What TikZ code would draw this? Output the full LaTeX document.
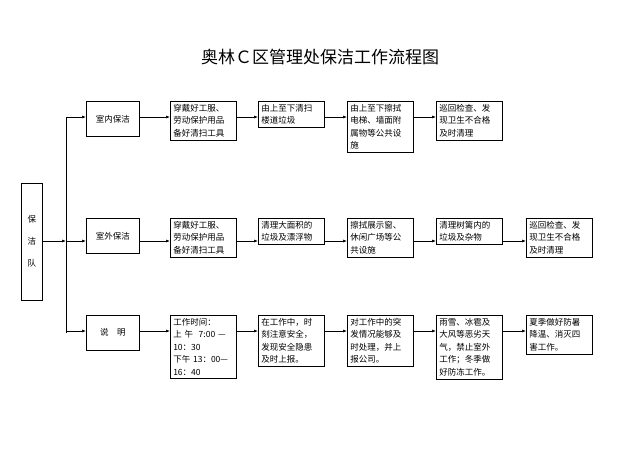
\documentclass[tikz,border=0pt]{standalone}
\usepackage{fontspec}
\setmainfont{Noto Sans CJK SC}
\usetikzlibrary{arrows.meta}
\begin{document}
\begin{tikzpicture}[x=1pt, y=-1pt, thick,
  box/.style = {draw, line width=0.5pt, anchor=north west, align=left, text width=60pt,
    inner sep=3pt, font=\fontsize{8.5}{12.5}\selectfont},
  head/.style = {draw, line width=0.5pt, anchor=north west, minimum width=53pt, minimum height=35pt,
    inner sep=2pt, font=\fontsize{8.5}{12.5}\selectfont},
  arr/.style = {line width=0.6pt, -{Latex[length=4pt,width=3pt]}}]
  \useasboundingbox (0,0) rectangle (640,453);
  \node (title) at (320,57) {\fontsize{17}{20}\selectfont 奥林Ｃ区管理处保洁工作流程图};
  \node[draw, line width=0.5pt, anchor=north west, minimum width=21pt, minimum height=117pt,
    align=center, font=\fontsize{8.5}{22}\selectfont] (team) at (21,183) {保\\洁\\队};
  \coordinate (r1) at (0,117);
  \coordinate (r2) at (0,241);
  \coordinate (r3) at (0,331);
  \coordinate (top) at (66,117);
  \coordinate (bot) at (66,333);
  \draw[line width=0.6pt] (top) -- (bot);
  \draw[arr] (team.east |- r2) -- (top |- r2);

  % row 1
  \node[head] (a0) at (86,101) {室内保洁};
  \node[box] (a1) at (170,101) {穿戴好工服、\\劳动保护用品\\备好清扫工具};
  \node[box] (a2) at (258,101) {由上至下清扫\\楼道垃圾};
  \node[box] (a3) at (347,101) {由上至下擦拭\\电梯、墙面附\\属物等公共设\\施};
  \node[box] (a4) at (436,101) {巡回检查、发\\现卫生不合格\\及时清理};
  % row 2
  \node[head] (b0) at (86,218) {室外保洁};
  \node[box] (b1) at (170,218) {穿戴好工服、\\劳动保护用品\\备好清扫工具};
  \node[box] (b2) at (258,218) {清理大面积的\\垃圾及漂浮物};
  \node[box] (b3) at (347,218) {擦拭展示窗、\\休闲广场等公\\共设施};
  \node[box] (b4) at (436,218) {清理树篱内的\\垃圾及杂物};
  \node[box] (b5) at (526,218) {巡回检查、发\\现卫生不合格\\及时清理};
  % row 3
  \node[head] (c0) at (86,315) {说\quad 明};
  \node[box] (c1) at (170,315) {工作时间：\\上\ 午\ \ 7:00 —\\10：30\\下午 13：00—\\16：40};
  \node[box] (c2) at (258,315) {在工作中，时\\刻注意安全，\\发现安全隐患\\及时上报。};
  \node[box] (c3) at (347,315) {对工作中的突\\发情况能够及\\时处理，并上\\报公司。};
  \node[box] (c4) at (436,315) {雨雪、冰雹及\\大风等恶劣天\\气，禁止室外\\工作；冬季做\\好防冻工作。};
  \node[box] (c5) at (526,315) {夏季做好防暑\\降温、消灭四\\害工作。};

  \draw[arr] (top) -- (a0.west |- r1);
  \draw[arr] (top |- r2) -- (b0.west |- r2);
  \draw[arr] (top |- r3) -- (c0.west |- r3);
  \foreach \i/\j in {0/1,1/2,2/3,3/4} {
    \draw[arr] (a\i.east |- r1) -- (a\j.west |- r1);
  }
  \foreach \i/\j in {0/1,1/2,2/3,3/4,4/5} {
    \draw[arr] (b\i.east |- r2) -- (b\j.west |- r2);
    \draw[arr] (c\i.east |- r3) -- (c\j.west |- r3);
  }
\end{tikzpicture}
\end{document}
